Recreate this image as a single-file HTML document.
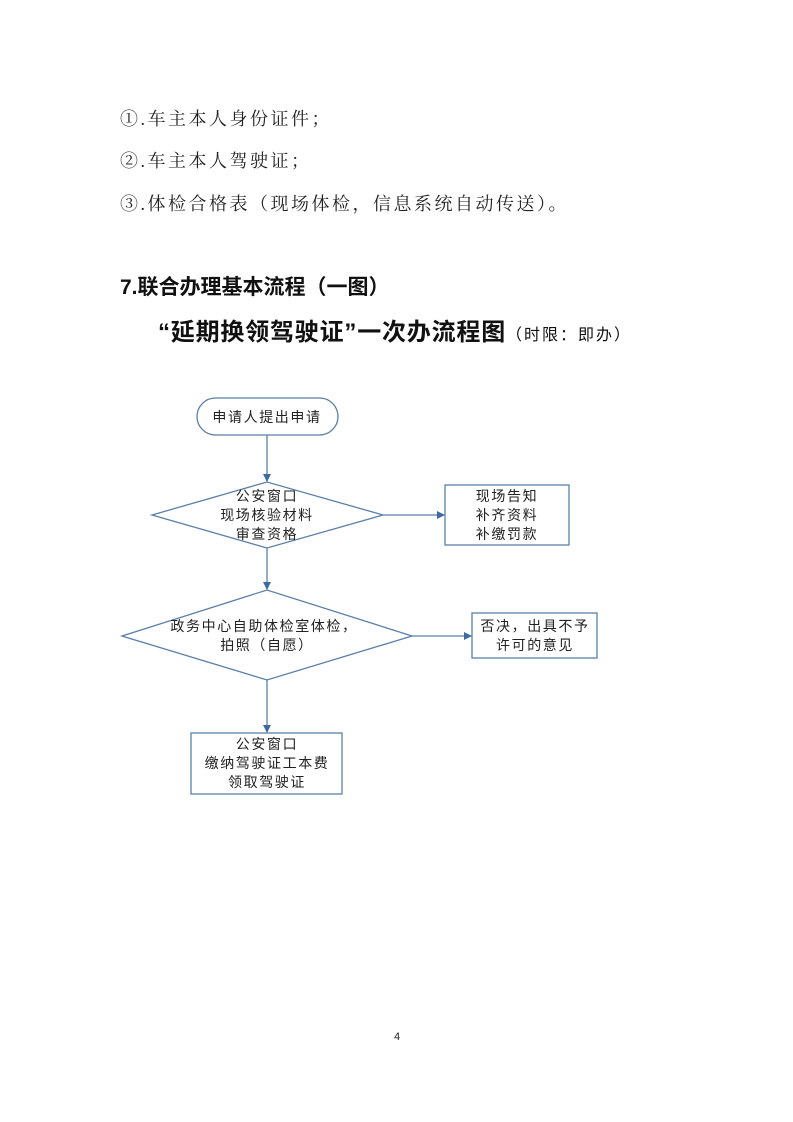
<!DOCTYPE html>
<html><head><meta charset="utf-8"><style>
body{margin:0;background:#fff;width:793px;height:1122px;position:relative;overflow:hidden;font-family:"Liberation Sans","Noto Sans CJK SC",sans-serif;color:#222}
.t{position:absolute;white-space:nowrap;line-height:1}
.l{font-family:"Liberation Serif","Noto Serif CJK SC",serif;font-size:18px;letter-spacing:2.5px;left:120px}
</style></head><body>
<div class="t l" style="top:110px">①.车主本人身份证件；</div>
<div class="t l" style="top:152px">②.车主本人驾驶证；</div>
<div class="t l" style="top:195px">③.体检合格表（现场体检，信息系统自动传送）。</div>
<div class="t" style="top:277px;left:120px;font-size:21px;font-weight:bold;color:#111">7.联合办理基本流程（一图）</div>
<div class="t" style="top:321px;left:158px;font-size:24px;font-weight:bold;color:#111;letter-spacing:0.8px">“延期换领驾驶证”一次办流程图<span style="font-size:16px;font-weight:normal;letter-spacing:2px">（时限：即办）</span></div>
<svg style="position:absolute;left:0;top:0" width="793" height="1122">
<defs><marker id="a" markerWidth="8" markerHeight="8" refX="7" refY="4" orient="auto" markerUnits="userSpaceOnUse"><path d="M0,0 L8,4 L0,8 z" fill="#3e6a9e"/></marker></defs>
<g stroke="#5b7fa8" stroke-width="1.3" fill="none">
<rect x="197" y="398" width="141" height="37" rx="18.5"/>
<polygon points="152,515 267,482 383,515 267,548"/>
<rect x="445" y="485" width="124" height="60"/>
<polygon points="122,636 267,590 412,636 267,680"/>
<rect x="472" y="613" width="125" height="45"/>
<rect x="191" y="733" width="151" height="61"/>
<line x1="267" y1="435" x2="267" y2="481" marker-end="url(#a)"/>
<line x1="267" y1="548" x2="267" y2="589" marker-end="url(#a)"/>
<line x1="267" y1="680" x2="267" y2="732" marker-end="url(#a)"/>
<line x1="383" y1="515" x2="444" y2="515" marker-end="url(#a)"/>
<line x1="412" y1="636" x2="471" y2="636" marker-end="url(#a)"/>
</g>
<g font-family="Liberation Sans,Noto Sans CJK SC,sans-serif" font-size="14" fill="#222" text-anchor="middle" letter-spacing="1.6">
<text x="267" y="422">申请人提出申请</text>
<text x="267" y="501">公安窗口</text>
<text x="267" y="520">现场核验材料</text>
<text x="267" y="539">审查资格</text>
<text x="507" y="501">现场告知</text>
<text x="507" y="520">补齐资料</text>
<text x="507" y="539">补缴罚款</text>
<text x="264" y="631">政务中心自助体检室体检，</text>
<text x="267" y="650">拍照（自愿）</text>
<text x="535" y="631">否决，出具不予</text>
<text x="535" y="650">许可的意见</text>
<text x="267" y="749">公安窗口</text>
<text x="267" y="768">缴纳驾驶证工本费</text>
<text x="267" y="787">领取驾驶证</text>
</g>
<text x="397" y="1040" font-family="Liberation Sans,sans-serif" font-size="11" fill="#222" text-anchor="middle">4</text>
</svg>
</body></html>
